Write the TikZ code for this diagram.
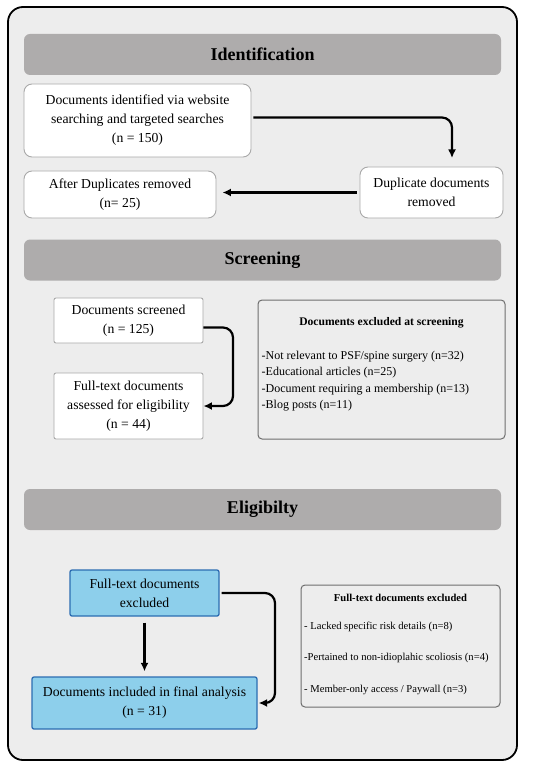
\documentclass[tikz,border=0pt]{standalone}
\usepackage{fontspec}
\setmainfont{Liberation Serif}
\usepackage{xcolor}
\usepackage{tikz}
\usetikzlibrary{arrows.meta,positioning}
\definecolor{panelgray}{HTML}{EDEDED}
\definecolor{headgray}{HTML}{AEACAC}
\definecolor{boxline}{HTML}{A9A9A9}
\definecolor{listline}{HTML}{6E6E6E}
\definecolor{skyfill}{HTML}{8DCFEB}
\definecolor{skyline}{HTML}{2C6DB2}

\begin{document}
\begin{tikzpicture}[
  x=1pt,y=-1pt,
  panel/.style={draw=black,line width=1.8pt,rounded corners=15pt,fill=panelgray,minimum width=509pt,minimum height=753pt},
  phase/.style={fill=headgray,rounded corners=6pt,minimum width=477pt,minimum height=41pt,font=\fontsize{18}{20}\selectfont\bfseries},
  whitebox/.style={draw=boxline,line width=0.9pt,fill=white,rounded corners=8pt,align=center,inner sep=0pt,font=\fontsize{13.7}{19}\selectfont},
  flatbox/.style={whitebox,rounded corners=2pt},
  listbox/.style={draw=listline,line width=1pt,fill=panelgray,rounded corners=4pt},
  bluebox/.style={draw=skyline,line width=1.3pt,fill=skyfill,rounded corners=2pt,align=center,inner sep=0pt,font=\fontsize{13.7}{19}\selectfont},
  arrow/.style={-{Latex[length=8.5pt,width=8pt]},line width=2.2pt,rounded corners=10pt}
]
\useasboundingbox (0,0) rectangle (550,767);
\node[panel] (frame) at (262.5,383.5) {};

% Identification
\node[phase] (ident) at (262.5,54.5) {Identification};
\node[whitebox,minimum width=227pt,minimum height=73pt] (found) at (137.5,120.5) {Documents identified via website\\searching and targeted searches\\(n = 150)};
\node[whitebox,minimum width=143pt,minimum height=51pt] (dupl) at (431.5,192.5) {Duplicate documents\\removed};
\node[whitebox,minimum width=192pt,minimum height=47pt] (after) at (120,194.5) {After Duplicates removed\\(n= 25)};
\coordinate (dupltop) at (452,158);
\draw[arrow] ([xshift=2pt,yshift=3pt]found.east) -| (dupltop);
\draw[arrow,shorten >=6pt] ([xshift=-3pt]dupl.west) -- (dupl.west -| after.east);

% Screening
\node[phase] (screen) at (262.5,260) {Screening};
\node[flatbox,minimum width=149pt,minimum height=45pt] (screened) at (128.5,320.5) {Documents screened\\(n = 125)};
\node[flatbox,minimum width=149pt,minimum height=66pt] (assessed) at (128.5,406) {Full-text documents\\assessed for eligibility\\(n = 44)};
\node[listbox,minimum width=247pt,minimum height=139pt] (excl) at (381.5,369.5) {};
\node[font=\fontsize{11.6}{14}\selectfont\bfseries] (excltitle) at (381.5,323) {Documents excluded at screening};
\node[anchor=north west,align=left,inner sep=0pt,font=\fontsize{12}{16.4}\selectfont] (excllist) at (261.5,351) {-Not relevant to PSF/spine surgery (n=32)\\-Educational articles (n=25)\\-Document requiring a membership (n=13)\\-Blog posts (n=11)};
\coordinate (screenbend) at (233,365);
\draw[arrow] ([yshift=-7pt]screened.east) -| (screenbend) |- (assessed.east);

% Eligibility
\node[phase] (elig) at (262.5,509.5) {Eligibilty};
\node[bluebox,minimum width=149pt,minimum height=46pt] (fullout) at (144.5,593) {Full-text documents\\excluded};
\node[bluebox,minimum width=225pt,minimum height=52pt] (final) at (144.5,703) {Documents included in final analysis\\(n = 31)};
\node[listbox,minimum width=199pt,minimum height=122pt] (reasons) at (400.5,646) {};
\node[font=\fontsize{10.6}{13}\selectfont\bfseries] (reasontitle) at (400.5,598) {Full-text documents excluded};
\node[anchor=north west,align=left,inner sep=0pt,font=\fontsize{10.6}{31.6}\selectfont] (reasonlist) at (304,621.5) {- Lacked specific risk details (n=8)\\-Pertained to non-idioplahic scoliosis (n=4)\\- Member-only access / Paywall (n=3)};
\coordinate (eligbend) at (275,650);
\draw[arrow,shorten <=6pt,shorten >=5pt] (fullout.south) -- (final.north);
\draw[arrow] ([xshift=2pt]fullout.east) -| (eligbend) |- ([xshift=1pt]final.east);
\end{tikzpicture}
\end{document}
